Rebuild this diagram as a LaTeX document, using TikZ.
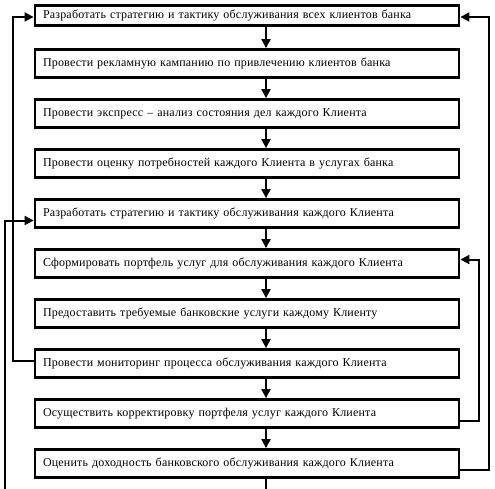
\documentclass[tikz,border=0pt]{standalone}
\usepackage{fontspec}
\setmainfont[LetterSpace=1.6]{Liberation Serif}
\usetikzlibrary{positioning, arrows.meta}

\begin{document}
\begin{tikzpicture}[
    x=1pt, y=-1pt,
    on grid,
    node distance=50pt,
    >={Triangle[length=9pt,width=9pt]},
    stage/.style={draw, line width=2.8pt, minimum height=28pt, text width=408pt,
        inner xsep=8pt, align=left, font=\fontsize{12}{14}\selectfont},
    link/.style={line width=2pt}
]
    \useasboundingbox (0,0) rectangle (495,489);

    % Define nodes
    \node[stage, minimum height=20.5pt] (strat_all) at (247,15.5) {Разработать стратегию и тактику обслуживания всех клиентов банка};
    \node[stage, below=48pt of strat_all] (advert) {Провести рекламную кампанию по привлечению клиентов банка};
    \node[stage, below=of advert] (express) {Провести экспресс – анализ состояния дел каждого Клиента};
    \node[stage, below=of express] (needs) {Провести оценку потребностей каждого Клиента в услугах банка};
    \node[stage, below=of needs] (strat_each) {Разработать стратегию и тактику обслуживания каждого Клиента};
    \node[stage, below=of strat_each] (portfolio) {Сформировать портфель услуг для обслуживания каждого Клиента};
    \node[stage, below=of portfolio] (provide) {Предоставить требуемые банковские услуги каждому Клиенту};
    \node[stage, below=of provide] (monitor) {Провести мониторинг процесса обслуживания каждого Клиента};
    \node[stage, below=of monitor] (correct) {Осуществить корректировку портфеля услуг каждого Клиента};
    \node[stage, below=of correct] (profit) {Оценить доходность банковского обслуживания каждого Клиента};

    \coordinate (tail_down) at (266,489);
    \coordinate (tail_left) at (5,489);

    % Transitions
    \path[link,->]
        ([xshift=19pt]strat_all.south) edge ([xshift=19pt]advert.north)
        ([xshift=19pt]advert.south) edge ([xshift=19pt]express.north)
        ([xshift=19pt]express.south) edge ([xshift=19pt]needs.north)
        ([xshift=19pt]needs.south) edge ([xshift=19pt]strat_each.north)
        ([xshift=19pt]strat_each.south) edge ([xshift=19pt]portfolio.north)
        ([xshift=19pt]portfolio.south) edge ([xshift=19pt]provide.north)
        ([xshift=19pt]provide.south) edge ([xshift=19pt]monitor.north)
        ([xshift=19pt]monitor.south) edge ([xshift=19pt]correct.north)
        ([xshift=19pt]correct.south) edge ([xshift=19pt]profit.north);
    \draw[link] ([xshift=19pt]profit.south) -- (tail_down);

    % Feedback loops
    \draw[link,->] ([yshift=3pt]monitor.west) -- ++(-21,0) |- ([yshift=-1.5pt]strat_all.west);
    \draw[link,->] ([yshift=-6pt]profit.east) -- ++(29,0) |- ([yshift=-1.5pt]strat_all.east);
    \draw[link,->] ([yshift=-7pt]correct.east) -- ++(19,0) |- ([yshift=4pt]portfolio.east);
    \draw[link,->] (tail_left) |- ([yshift=-7pt]strat_each.west);
\end{tikzpicture}
\end{document}
